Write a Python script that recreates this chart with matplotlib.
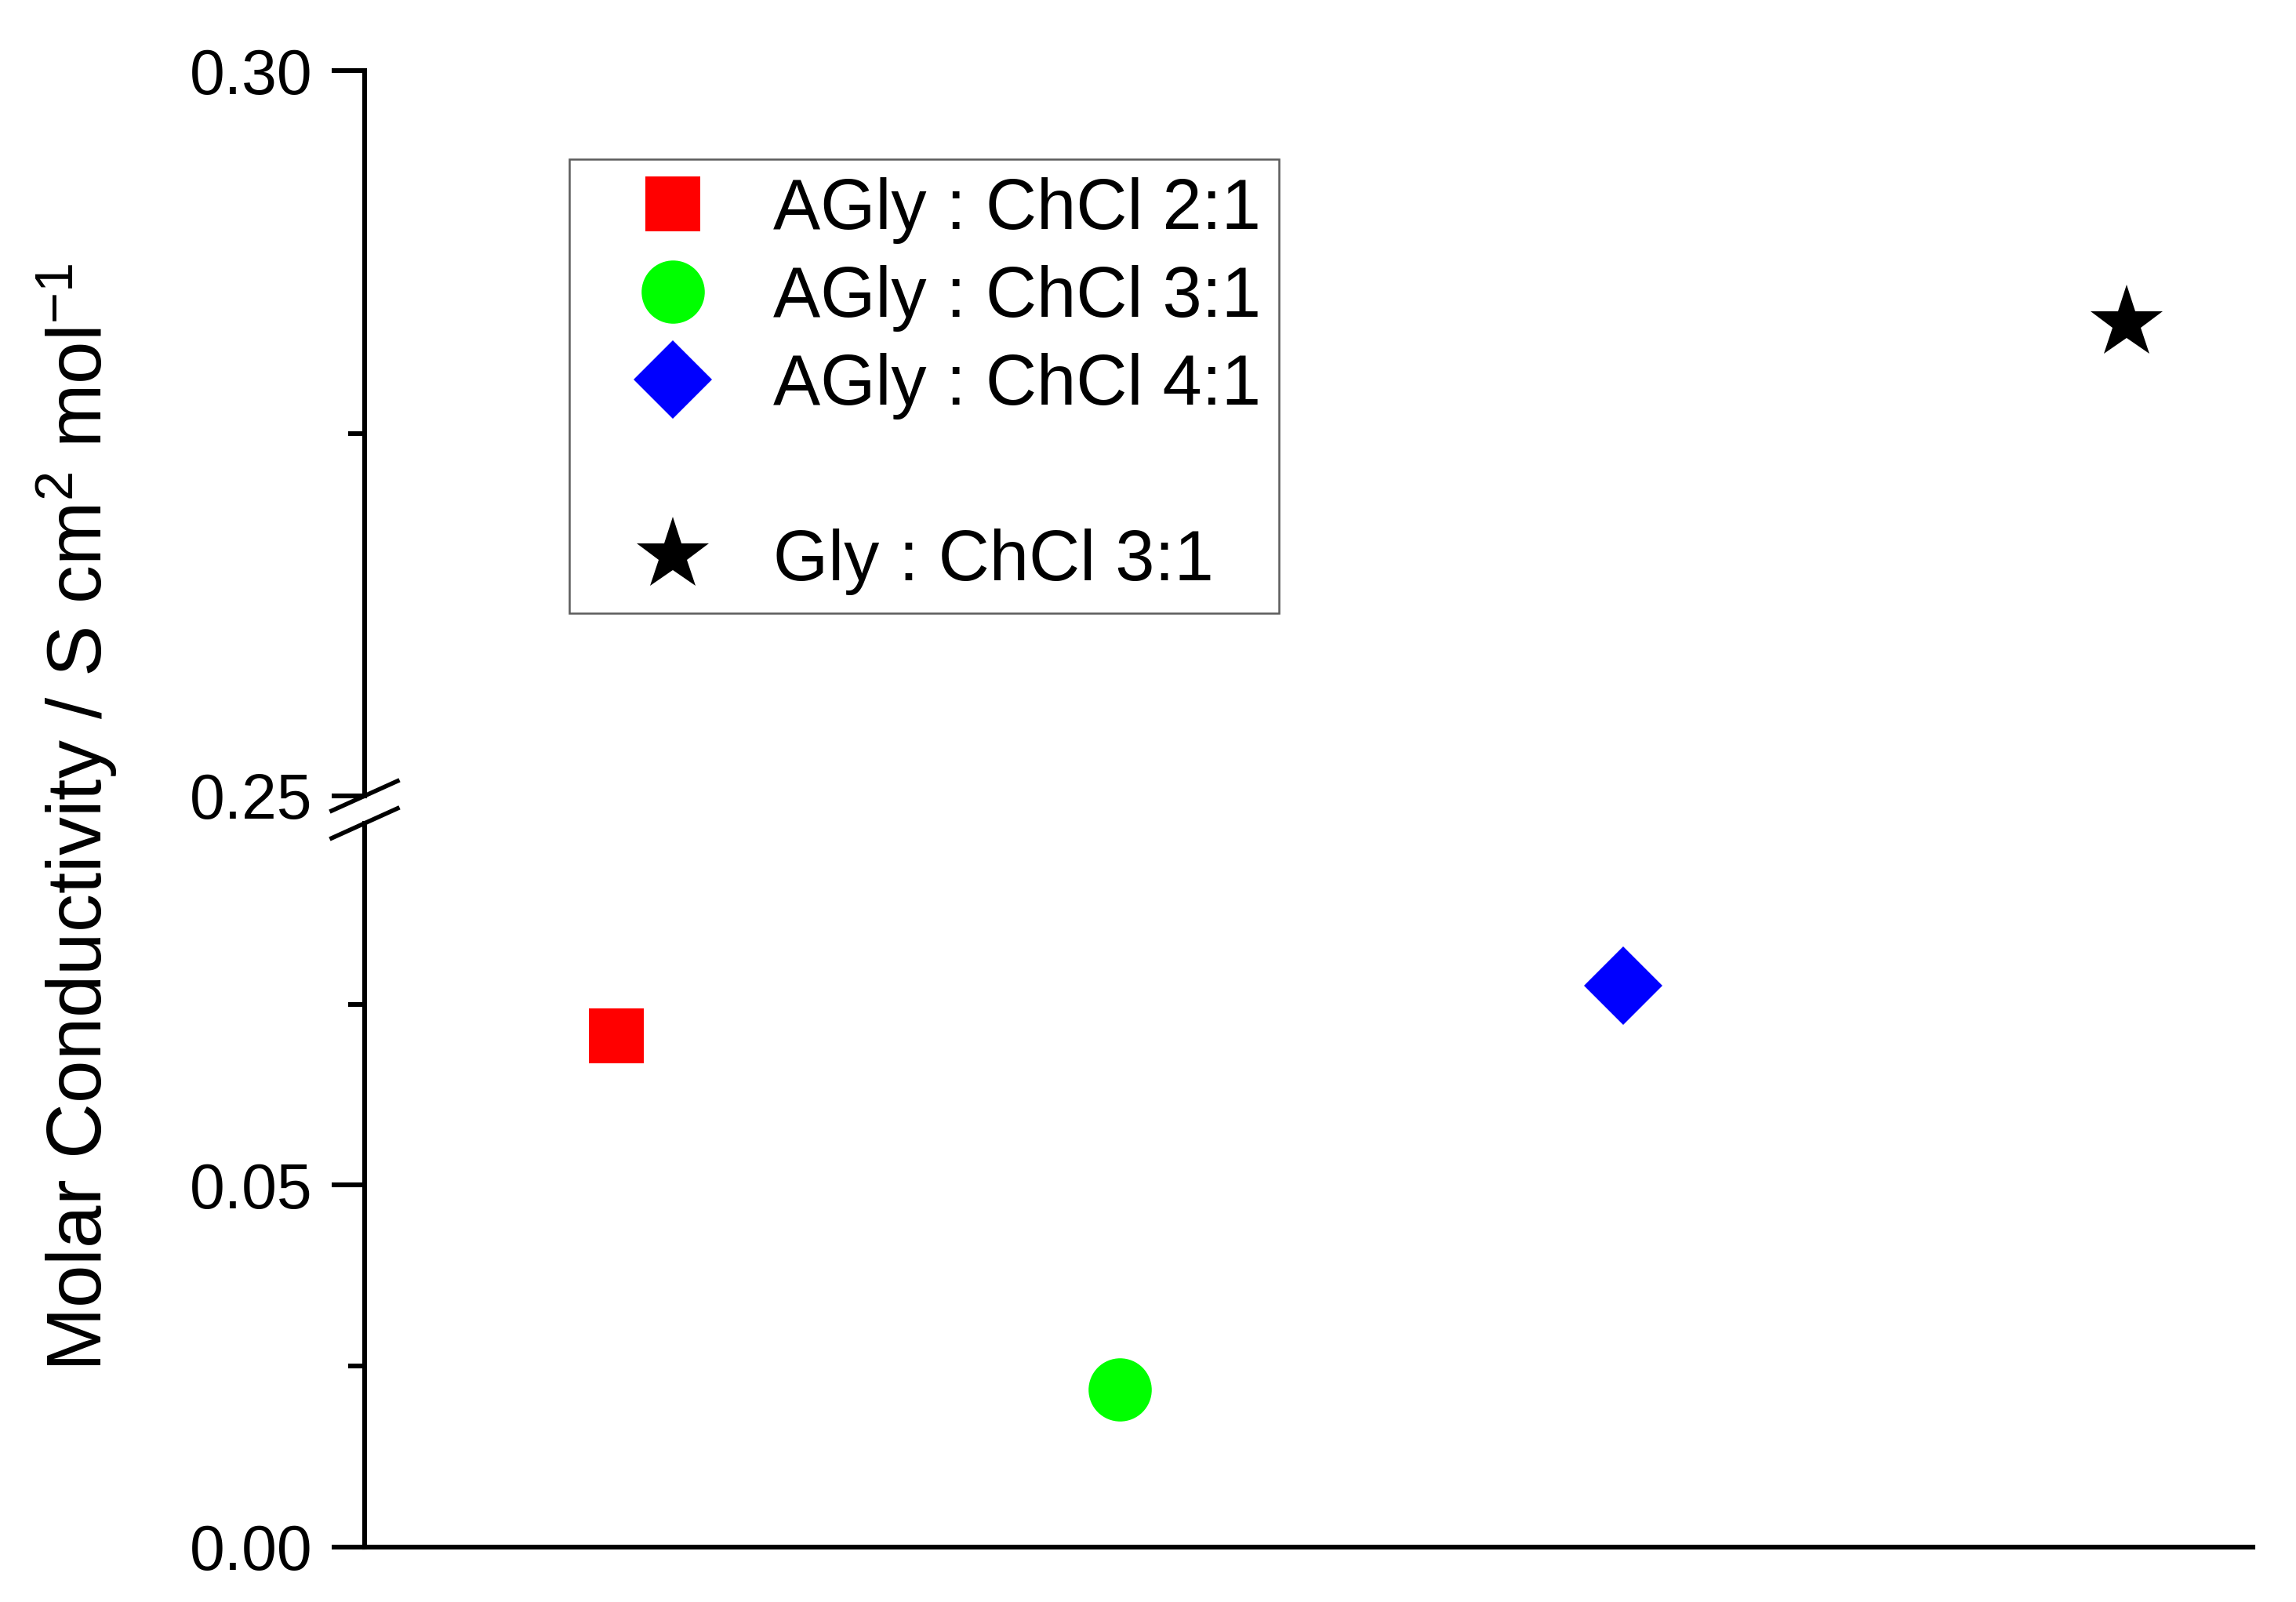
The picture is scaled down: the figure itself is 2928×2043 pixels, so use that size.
import matplotlib.pyplot as plt
from matplotlib.lines import Line2D

plt.rcParams['font.family'] = ['Liberation Sans', 'DejaVu Sans']
plt.rcParams['mathtext.default'] = 'regular'

samples = ['AGly : ChCl 2:1', 'AGly : ChCl 3:1', 'AGly : ChCl 4:1', 'Gly : ChCl 3:1']
x_pos = [1, 2, 3, 4]
conductivity = [0.0706, 0.0218, 0.0776, 0.2826]
colors = ['#ff0000', '#00ff00', '#0000ff', '#000000']
markers = ['s', 'o', 'D', '*']
msizes = [50, 58, 51, 70]

lo_lim = (0.0, 0.10)
hi_lim = (0.25, 0.30)

fig = plt.figure(figsize=(29.28, 20.43), dpi=100)
ax_lo = fig.add_axes([0.1588, 0.0343, 0.8224, 0.4518])
ax_hi = fig.add_axes([0.1588, 0.5032, 0.8224, 0.4527])

handles = []
for x, v, c, m, ms, lab in zip(x_pos, conductivity, colors, markers, msizes, samples):
    ax = ax_hi if v >= hi_lim[0] else ax_lo
    h, = ax.plot([x], [v], linestyle='none', marker=m, color=c, markersize=ms,
                 markeredgewidth=0, label=lab)
    handles.append(h)

for ax in (ax_lo, ax_hi):
    ax.set_xlim(0.5, 4.25)
    ax.spines['top'].set_visible(False)
    ax.spines['right'].set_visible(False)
    ax.spines['left'].set_linewidth(4.4)
    ax.spines['bottom'].set_linewidth(4.4)
    ax.set_xticks([])
    ax.tick_params(axis='y', which='major', length=30, width=4.4, labelsize=58, pad=18)
    ax.tick_params(axis='y', which='minor', length=15, width=4.4)
    ax.patch.set_alpha(0)

ax_hi.spines['bottom'].set_visible(False)

ax_lo.set_ylim(*lo_lim)
ax_lo.set_yticks([0.0, 0.05])
ax_lo.set_yticks([0.025, 0.075], minor=True)
ax_lo.set_yticklabels(['0.00', '0.05'])

ax_hi.set_ylim(*hi_lim)
ax_hi.set_yticks([0.25, 0.30])
ax_hi.set_yticks([0.275], minor=True)
ax_hi.set_yticklabels(['0.25', '0.30'])

# axis break marks
pos_lo = ax_lo.get_position()
pos_hi = ax_hi.get_position()
dx = 42 / 2928
dy = 19 / 2043
for yc in (pos_hi.y0, pos_lo.y1):
    fig.add_artist(Line2D([pos_lo.x0 - dx, pos_lo.x0 + dx], [yc - dy, yc + dy],
                          transform=fig.transFigure, color='black', lw=4))

fig.text(0.0335, 0.49, 'Molar Conductivity / S cm$^{2}$ mol$^{-1}$', rotation=90,
         ha='center', va='center', fontsize=70.5)

blank = Line2D([], [], linestyle='none')
leg_handles = handles[:3] + [blank] + handles[3:]
leg_labels = samples[:3] + [' '] + samples[3:]
leg = fig.legend(leg_handles, leg_labels, loc='upper left',
                 bbox_to_anchor=(0.2478, 0.9006), fontsize=65, frameon=True,
                 fancybox=False, borderpad=0.25, borderaxespad=0,
                 handlelength=2.44, handletextpad=0.2,
                 labelspacing=0.3, numpoints=1)
leg.get_frame().set_edgecolor('#333333')
leg.get_frame().set_linewidth(1.8)

fig.savefig('out.png', dpi=100, facecolor='white')
